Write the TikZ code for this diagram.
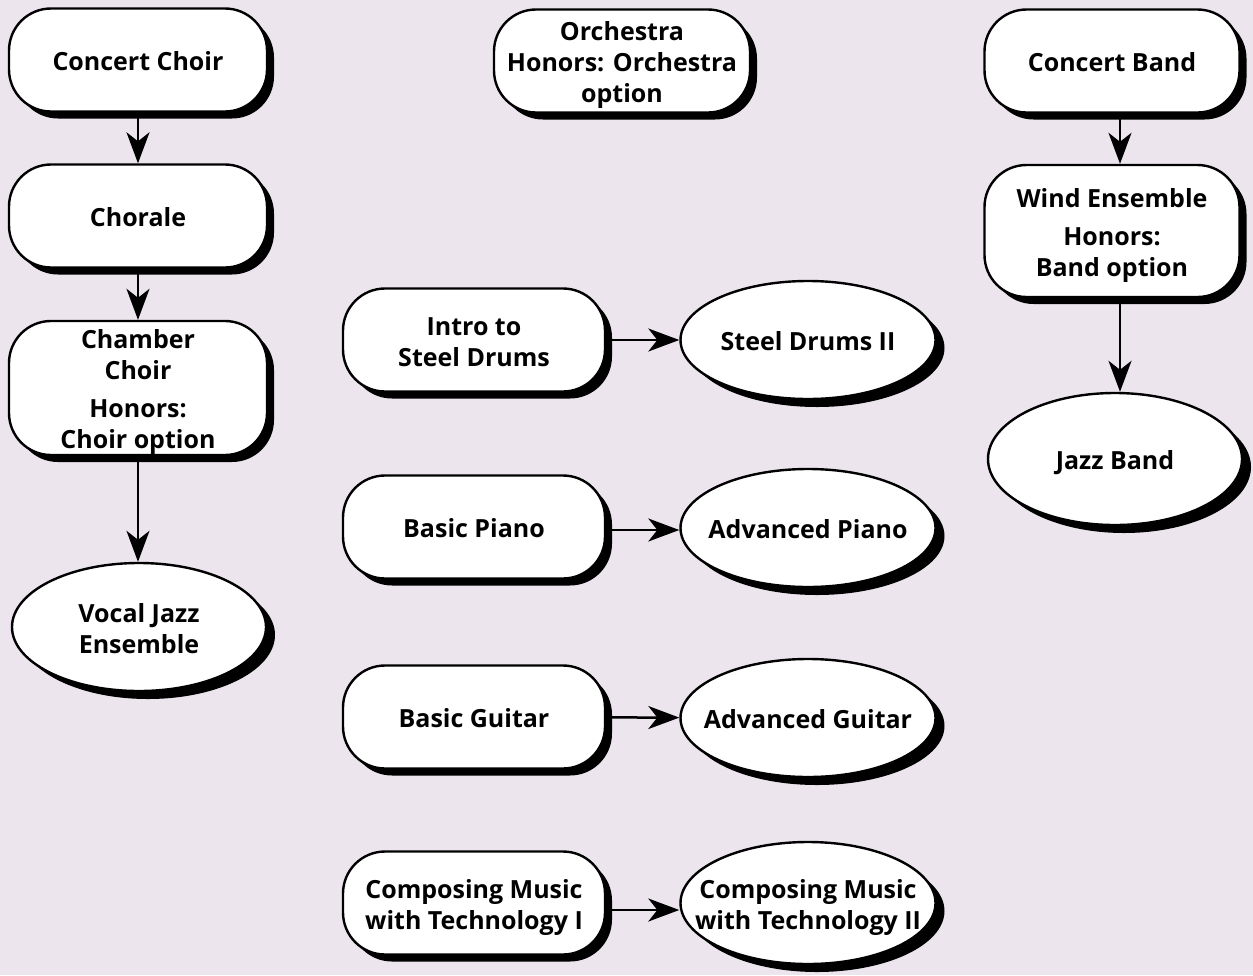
\documentclass[tikz,border=0pt]{standalone}
\usepackage{fontspec}
\setmainfont{Open Sans}
\usetikzlibrary{shapes.geometric,shadows,arrows.meta}
\definecolor{bgcol}{RGB}{236,229,238}
\newcommand\boxtxt[2][-11pt]{\raisebox{#1}[0pt][0pt]{\makebox[0pt]{\begin{tabular}{@{}c@{}}#2\end{tabular}}}}
\tikzset{
  basebox/.style={draw=black, line width=2.4pt, fill=white,
    font=\fontsize{25}{31}\selectfont\bfseries, inner sep=0pt},
  rbox/.style={basebox, rectangle, rounded corners=42pt, minimum width=258pt, minimum height=103pt,
    drop shadow={shadow xshift=7pt, shadow yshift=-7pt, opacity=1, fill=black}},
  ebox/.style={basebox, ellipse, minimum width=255pt, minimum height=118pt,
    drop shadow={shadow xshift=9pt, shadow yshift=-8pt, opacity=1, fill=black}},
  conn/.style={line width=2.5pt, -{Stealth[length=31pt, width=23pt, inset=9pt]}},
}
\begin{document}
\begin{tikzpicture}[x=1pt, y=-1pt]
\useasboundingbox[fill=bgcol] (0,0) rectangle (1253,975);

% left column
\node[rbox] (cchoir) at (138,60) {\boxtxt{Concert Choir}};
\node[rbox] (chorale) at (138,216) {\boxtxt{Chorale}};
\node[rbox, minimum height=134pt] (chamber) at (138,388) {\boxtxt{Chamber\\Choir\\[7pt]Honors:\\Choir option}};
\node[ebox, minimum width=254pt, minimum height=128pt] (vocal) at (139,627) {\boxtxt{Vocal Jazz\\Ensemble}};

% top middle
\node[rbox, minimum width=256pt] (orch) at (622,61) {\boxtxt{Orchestra\\Honors: Orchestra\\option}};

% right column
\node[rbox, minimum width=255pt] (cband) at (1112,61) {\boxtxt{Concert Band}};
\node[rbox, minimum width=255pt, minimum height=132pt] (wind) at (1112,231) {\boxtxt{Wind Ensemble\\[7pt]Honors:\\Band option}};
\node[ebox, minimum width=254pt, minimum height=132pt] (jazz) at (1115,459) {\boxtxt{Jazz Band}};

% middle rows
\node[rbox, minimum width=262pt] (intro) at (474,340) {\boxtxt{Intro to\\Steel Drums}};
\node[ebox] (steel) at (808,340) {\boxtxt{Steel Drums II}};
\node[rbox, minimum width=262pt] (bpiano) at (474,527) {\boxtxt{Basic Piano}};
\node[ebox] (apiano) at (808,528) {\boxtxt{Advanced Piano}};
\node[rbox, minimum width=262pt] (bguitar) at (474,717) {\boxtxt{Basic Guitar}};
\node[ebox] (aguitar) at (808,718) {\boxtxt{Advanced Guitar}};
\node[rbox, minimum width=262pt] (comp1) at (474,903) {\boxtxt{Composing Music\\with Technology I}};
\node[ebox, minimum height=122pt] (comp2) at (808,903) {\boxtxt{Composing Music\\with Technology II}};

% connectors
\draw[conn] (cchoir) -- (chorale);
\draw[conn] (chorale) -- (chamber);
\draw[conn] (chamber) -- (vocal.north -| chamber.south);
\draw[conn] (cband.south -| 1120,0) -- (wind.north -| 1120,0);
\draw[conn] (wind.south -| 1120,0) -- (jazz.north -| 1120,0);
\draw[conn] (intro) -- (steel);
\draw[conn] (bpiano.east |- 0,530) -- (apiano.west |- 0,530);
\draw[conn] (bguitar) -- (aguitar);
\draw[conn] (comp1.east |- 0,910) -- (comp2.west |- 0,910);
\end{tikzpicture}
\end{document}
